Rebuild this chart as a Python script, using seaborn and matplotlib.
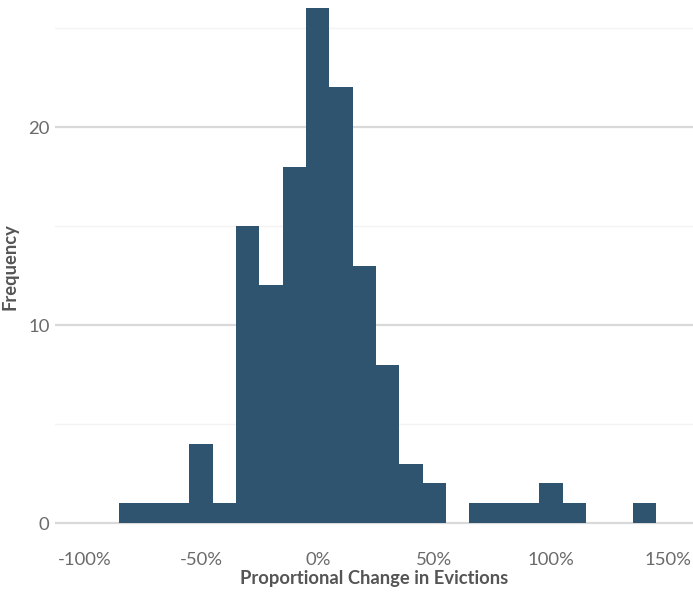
import numpy as np
import pandas as pd
import matplotlib
matplotlib.use("Agg")
import matplotlib.pyplot as plt
from matplotlib.ticker import FuncFormatter
import seaborn as sns

# Data: histogram bin centers (proportional change) and counts
bin_centers = [-0.8, -0.7, -0.6, -0.5, -0.4, -0.3, -0.2, -0.1, 0.0, 0.1, 0.2, 0.3,
               0.4, 0.5, 0.6, 0.7, 0.8, 0.9, 1.0, 1.1, 1.2, 1.3, 1.4]
counts = [1, 1, 1, 4, 1, 15, 12, 18, 26, 22, 13, 8,
          3, 2, 0, 1, 1, 1, 2, 1, 0, 0, 1]
x_ticks = [-1.0, -0.5, 0.0, 0.5, 1.0, 1.5]
y_ticks = [0, 10, 20]

df = pd.DataFrame({"change": bin_centers, "count": counts})

sns.set_theme(style="white")
plt.rcParams["font.family"] = ["Lato", "DejaVu Sans"]

fig = plt.figure(figsize=(6.93, 5.92), dpi=100)
ax = fig.add_axes([55 / 693, 1 - 533 / 592, (693 - 55) / 693, 533 / 592])

sns.histplot(data=df, x="change", weights="count", binwidth=0.1,
             binrange=(-0.85, 1.45), ax=ax,
             color="#2E5470", alpha=1.0, linewidth=0,
             zorder=3)

ax.set_xlim(-1.126, 1.608)
ax.set_ylim(-0.5, 523 / 19.8)

# gridlines
for v in [5, 15, 25]:
    ax.axhline(v, color="#f3f3f3", lw=1.0, zorder=1)
for v in y_ticks:
    ax.axhline(v, color="#d9d9d9", lw=1.6, zorder=1)

ax.set_xticks(x_ticks)
ax.xaxis.set_major_formatter(FuncFormatter(lambda v, p: f"{int(round(v * 100))}%"))
ax.set_yticks(y_ticks)

for s in ax.spines.values():
    s.set_visible(False)
ax.tick_params(axis="both", length=0, labelsize=13.3, labelcolor="#6a6a6a")
ax.tick_params(axis="x", pad=14)
ax.tick_params(axis="y", pad=4)

ax.set_xlabel("Proportional Change in Evictions", fontsize=13.2, fontweight="bold",
              color="#555555", labelpad=1)
ax.set_ylabel("Frequency", fontsize=13.2, fontweight="bold", color="#555555",
              labelpad=7)
ax.grid(False)

fig.savefig("out.png", dpi=100)
